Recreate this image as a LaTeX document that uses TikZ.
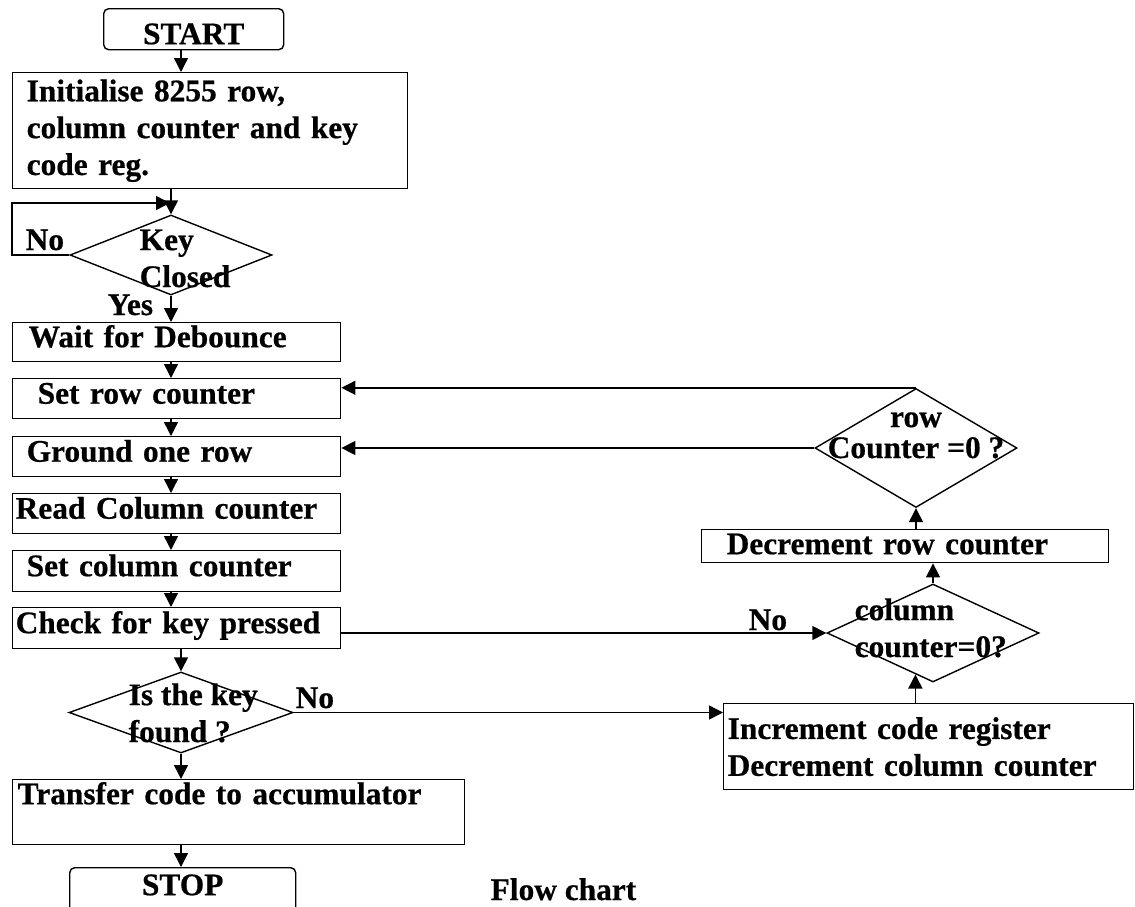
\documentclass[tikz,border=0pt]{standalone}
\usepackage{fontspec}
\setmainfont{Liberation Serif}[BoldFeatures={FakeBold=0.6}]
\usepackage{tikz}
\usetikzlibrary{arrows.meta,shapes.geometric}

\tikzset{
  box/.style={draw, rectangle, anchor=north west, align=left, inner ysep=0pt},
  oneline/.style={text height=20bp, text depth=10bp},
  term/.style={draw, rectangle, rounded corners=5bp, anchor=north west, inner sep=0pt},
  decision/.style={draw, diamond, inner sep=0pt},
  lbl/.style={inner sep=0pt, align=left}
}

\begin{document}
\begin{tikzpicture}[x=1bp,y=-1bp,>={Triangle[length=14bp,width=14bp]},
  line width=1.4bp, font=\fontsize{31.5}{37}\selectfont\bfseries]
\useasboundingbox (0,0) rectangle (1135,907);
% Left column
\node[term, minimum width=180bp, minimum height=41bp, text height=30bp, text depth=0bp] (start) at (103,8) {START};
\node[box, text width=367bp, inner xsep=14bp, minimum height=116bp] (init) at (12,72)
  {Initialise 8255 row,\\column counter and key\\code reg.};
\node[decision, minimum width=202bp, minimum height=80bp] (keyclosed) at (171,255) {};
\node[box, oneline, text width=296bp, inner xsep=16bp, minimum height=39bp] (wait) at (12,322) {Wait for Debounce};
\node[box, oneline, text width=278bp, inner xsep=25bp, minimum height=40bp] (setrow) at (12,378) {Set row counter};
\node[box, oneline, text width=300bp, inner xsep=14bp, minimum height=40bp] (ground) at (12,436) {Ground one row};
\node[box, oneline, text width=322bp, inner xsep=3bp, minimum height=40bp] (readcol) at (12,493) {Read Column counter};
\node[box, oneline, text width=300bp, inner xsep=14bp, minimum height=41bp] (setcol) at (12,550) {Set column counter};
\node[box, oneline, text width=322bp, inner xsep=3bp, minimum height=41bp] (check) at (12,607) {Check for key pressed};
\node[decision, minimum width=224bp, minimum height=81bp] (isfound) at (181,712.5) {};
\node[box, text width=442bp, inner xsep=5bp, minimum height=65bp, text height=22bp, text depth=38bp] (transfer) at (12,779)
  {Transfer code to accumulator};
\node[term, minimum width=226bp, minimum height=45bp, text height=20bp, text depth=10bp] (stop) at (69,867) {STOP};

% Right column
\node[decision, minimum width=202bp, minimum height=119bp] (rowdia) at (916,448) {};
\node[box, text width=357bp, inner xsep=25bp, minimum height=33bp, text height=23bp, text depth=7bp] (decrow) at (701,529)
  {Decrement row counter};
\node[decision, minimum width=212bp, minimum height=98bp] (coldia) at (933,633) {};
\node[box, text width=402bp, inner xsep=4bp, minimum height=86bp] (incr) at (723,703)
  {Increment code register\\Decrement column counter};

% Texts in the decisions and the labels
\node[lbl, anchor=base west] (keytext) at (139,287) {Key\\Closed};
\node[lbl, anchor=base west] (foundtext) at (128,742) {Is the key\\found ?};
\node[lbl, align=center, anchor=base, font=\fontsize{31.5}{31}\selectfont\bfseries] (rowtext) at (916,458) {row\\Counter =0 ?};
\node[lbl, anchor=base west] (coltext) at (854,657) {column\\counter=0?};
\node[lbl, anchor=base west] (nokey) at (25,250) {No};
\node[lbl, anchor=base west] (yes) at (107,315) {Yes};
\node[lbl, anchor=base west] (nofound) at (295,708) {No};
\node[lbl, anchor=base west] (nocheck) at (748,630) {No};
\node[lbl, anchor=base west] (caption) at (490,900) {Flow chart};

% Main flow
\coordinate (loop) at (170,203);
\draw[->] (start.south -| isfound) -- (init.north -| isfound);
\draw[->] (init.south -| keyclosed) -- (keyclosed.north);
\draw[->] (keyclosed.west) -- (keyclosed.west -| init.west) |- (loop);
\draw[->] (keyclosed.south) -- (wait.north -| keyclosed);
\draw[->] (wait.south -| keyclosed) -- (setrow.north -| keyclosed);
\draw[->] (setrow.south -| keyclosed) -- (ground.north -| keyclosed);
\draw[->] (ground.south -| keyclosed) -- (readcol.north -| keyclosed);
\draw[->] (readcol.south -| keyclosed) -- (setcol.north -| keyclosed);
\draw[->] (setcol.south -| keyclosed) -- (check.north -| keyclosed);
\draw[->] (check.south -| isfound) -- (isfound.north);
\draw[->] (isfound.south) -- (transfer.north -| isfound);
\draw[->] (transfer.south -| isfound) -- (stop.north -| isfound);

% Loop back on the right
\draw[->] (isfound.east) -- (isfound.east -| incr.west);
\draw[->] (check.east |- coldia.west) -- (coldia.west);
\draw[->] (incr.north -| coldia.247) -- (coldia.247);
\draw[->] (coldia.north) -- (decrow.south -| coldia);
\draw[->] (decrow.north -| rowdia) -- (rowdia.south);
\draw[->] (rowdia.north) -- (rowdia.north -| setrow.east);
\draw[->] (rowdia.west) -- (rowdia.west -| ground.east);
\end{tikzpicture}
\end{document}
